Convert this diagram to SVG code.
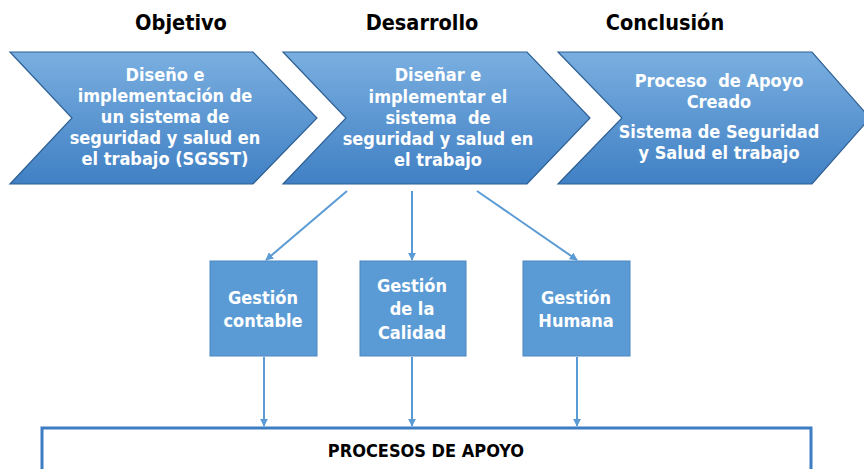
<svg xmlns="http://www.w3.org/2000/svg" width="864" height="469" viewBox="0 0 864 469">
<defs>
<linearGradient id="chev" x1="0" y1="0" x2="0" y2="1">
<stop offset="0" stop-color="#7aafe0"/>
<stop offset="1" stop-color="#4080c4"/>
</linearGradient>
<marker id="ah" viewBox="0 0 10 10" refX="9" refY="5" markerWidth="4" markerHeight="4" orient="auto" markerUnits="strokeWidth">
<path d="M0,0 L10,5 L0,10 z" fill="#5b9bd5"/>
</marker>
<style>
.chev{fill:url(#chev);stroke:#2d5f93;stroke-width:1.2}
.ct{font-family:"DejaVu Sans Condensed","DejaVu Sans",sans-serif;font-weight:bold;font-size:18px;fill:#ffffff;text-anchor:middle}
.hd{font-family:"DejaVu Sans Condensed","DejaVu Sans",sans-serif;font-weight:bold;font-size:21.5px;fill:#000000;text-anchor:middle}
.box{fill:#5b9bd5;stroke:#4a86c0;stroke-width:1}
.bt{font-family:"DejaVu Sans Condensed","DejaVu Sans",sans-serif;font-weight:bold;font-size:18px;fill:#ffffff;text-anchor:middle}
.con{stroke:#5b9bd5;stroke-width:2;fill:none;marker-end:url(#ah)}
.proc{fill:#ffffff;stroke:#3c7dc4;stroke-width:3}
.pt{font-family:"DejaVu Sans Condensed","DejaVu Sans",sans-serif;font-weight:bold;font-size:18px;fill:#000000;text-anchor:middle}
</style>
</defs>
<g id="headers">
<text class="hd" x="181" y="30">Objetivo</text>
<text class="hd" x="422" y="30">Desarrollo</text>
<text class="hd" x="665" y="30">Conclusión</text>
</g>
<g id="objetivo">
<path class="chev" d="M10,52 L253,52 L317,118 L253,184 L10,184 L72,118 Z"/>
<text class="ct" x="165" y="81">Diseño e</text>
<text class="ct" x="165" y="102">implementación de</text>
<text class="ct" x="165" y="123">un sistema de</text>
<text class="ct" x="165" y="144">seguridad y salud en</text>
<text class="ct" x="165" y="165">el trabajo (SGSST)</text>
</g>
<g id="desarrollo">
<path class="chev" d="M283,52 L527,52 L590,118 L527,184 L283,184 L346,118 Z"/>
<text class="ct" x="438" y="81">Diseñar e</text>
<text class="ct" x="438" y="103">implementar el</text>
<text class="ct" x="438" y="124" xml:space="preserve">sistema  de</text>
<text class="ct" x="438" y="145">seguridad y salud en</text>
<text class="ct" x="438" y="166">el trabajo</text>
</g>
<g id="conclusion">
<path class="chev" d="M558,52 L812,52 L870,118 L812,184 L558,184 L622,118 Z"/>
<text class="ct" x="719" y="87" xml:space="preserve">Proceso  de Apoyo</text>
<text class="ct" x="719" y="108">Creado</text>
<text class="ct" x="719" y="138">Sistema de Seguridad</text>
<text class="ct" x="719" y="159">y Salud el trabajo</text>
</g>
<g id="gestion-contable">
<rect class="box" x="210" y="261" width="107" height="95"/>
<text class="bt" x="263" y="304">Gestión</text>
<text class="bt" x="263" y="327">contable</text>
</g>
<g id="gestion-calidad">
<rect class="box" x="360" y="261" width="106" height="95"/>
<text class="bt" x="412" y="292">Gestión</text>
<text class="bt" x="412" y="315">de la</text>
<text class="bt" x="412" y="339">Calidad</text>
</g>
<g id="gestion-humana">
<rect class="box" x="523" y="261" width="107" height="95"/>
<text class="bt" x="576" y="304">Gestión</text>
<text class="bt" x="576" y="327">Humana</text>
</g>
<g id="procesos-apoyo">
<rect class="proc" x="42" y="428" width="769" height="60"/>
<text class="pt" x="426" y="457">PROCESOS DE APOYO</text>
</g>
<g id="connectors">
<path class="con" d="M347,191 L266,260"/>
<path class="con" d="M412,191 L412,260"/>
<path class="con" d="M477,191 L577,260"/>
<path class="con" d="M264,357 L264,426"/>
<path class="con" d="M412,357 L412,426"/>
<path class="con" d="M577,357 L577,426"/>
</g>
</svg>
